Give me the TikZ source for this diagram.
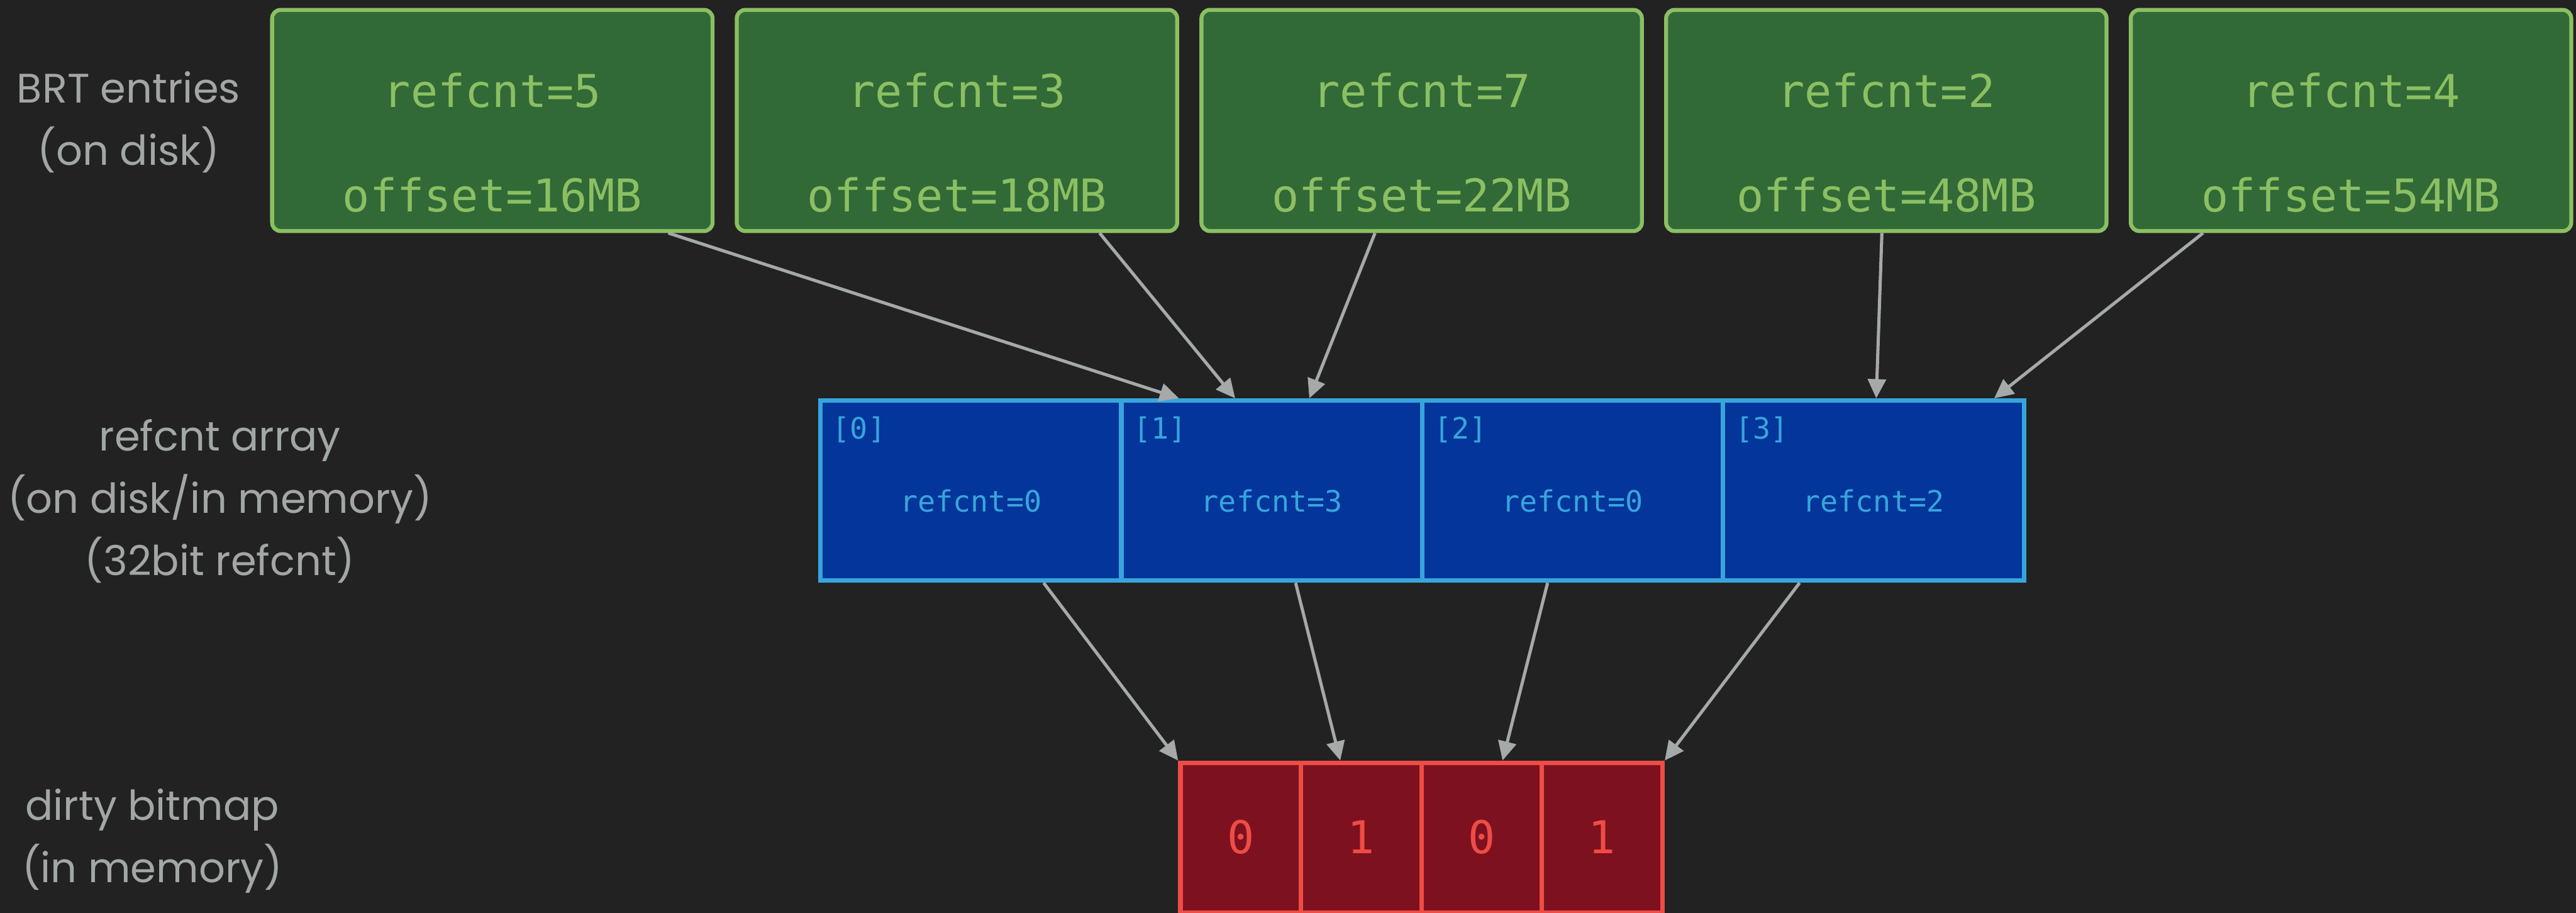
\documentclass[tikz,border=0pt]{standalone}
\usepackage{fontspec}
\setmainfont{Poppins}
\setmonofont{DejaVu Sans Mono}
\usetikzlibrary{arrows.meta,calc,positioning}
\definecolor{bg}{HTML}{222222}
\definecolor{lblgray}{HTML}{A2A6A6}
\definecolor{brtfill}{HTML}{316A37}
\definecolor{brtline}{HTML}{8BBF62}
\definecolor{cntfill}{HTML}{03359A}
\definecolor{cntline}{HTML}{37A5DC}
\definecolor{bitfill}{HTML}{7E111F}
\definecolor{bitline}{HTML}{EE4C45}
\definecolor{ptrgray}{HTML}{A5A9A9}

\begin{document}
\begin{tikzpicture}[
  lbl/.style={font=\fontsize{20.8}{31.5}\selectfont, text=lblgray, align=center, anchor=base, inner sep=0pt},
  brt/.style={draw=brtline, fill=brtfill, line width=2pt, rounded corners=4.3pt, minimum width=7.81cm, minimum height=3.92cm, inner sep=0pt},
  brttxt/.style={font=\ttfamily\fontsize{22.8}{27}\selectfont, text=brtline, anchor=base, inner sep=0pt},
  cnt/.style={draw=cntline, fill=cntfill, line width=2.3pt, minimum width=5.335cm, minimum height=3.19cm, inner sep=0pt},
  cnttxt/.style={font=\ttfamily\fontsize{14.8}{18}\selectfont, text=cntline, anchor=base, inner sep=0pt},
  bit/.style={draw=bitline, fill=bitfill, line width=2.3pt, minimum width=2.137cm, minimum height=2.66cm, inner sep=0pt},
  bittxt/.style={font=\ttfamily\fontsize{22.8}{27}\selectfont, text=bitline, anchor=base, inner sep=0pt},
  ptr/.style={draw=ptrgray, line width=1.6pt, -{Triangle[length=0.34cm,width=0.32cm]}}
]
\fill[bg] (0,0) rectangle (45.68,-16.18);
\useasboundingbox (0,0) rectangle (45.68,-16.18);

\node[lbl] (lbrt) at (2.28,-2.93) {BRT entries\\(on disk)};
\node[lbl] (lcnt) at (3.90,-10.20) {refcnt array\\(on disk/in memory)\\(32bit refcnt)};
\node[lbl] (lbit) at (2.70,-15.64) {dirty bitmap\\(in memory)};

\foreach \i/\x/\r/\ofs in {1/8.73/5/16, 2/16.97/3/18, 3/25.21/7/22, 4/33.45/2/48, 5/41.69/4/54} {
  \node[brt] (e\i) at (\x,-2.135) {};
  \node[brttxt] (e\i r) at (\x,-1.90) {refcnt=\r};
  \node[brttxt] (e\i o) at (\x,-3.75) {offset=\ofs MB};
}

\foreach \i/\x/\v in {0/17.2175/0, 1/22.5525/3, 2/27.8875/0, 3/33.2225/2} {
  \node[cnt] (c\i) at (\x,-8.695) {};
  \node[cnttxt, anchor=base west] (c\i i) at (\x-2.46,-7.78) {[\i]};
  \node[cnttxt] (c\i v) at (\x,-9.07) {refcnt=\v};
}

\foreach \i/\x/\v in {0/22.0/0, 1/24.137/1, 2/26.274/0, 3/28.411/1} {
  \node[bit] (b\i) at (\x,-14.85) {};
  \node[bittxt] (b\i v) at (\x,-15.13) {\v};
}

\foreach \s/\a/\t/\b in {e1/0.896/c1/0.196, e2/0.821/c1/0.38, e3/0.395/c1/0.623, e4/0.49/c3/0.509, e5/0.167/c3/0.895}
  \draw[ptr] ($(\s.south west)!\a!(\s.south east)$) -- ($(\t.north west)!\b!(\t.north east)$);

\foreach \i/\a/\b in {0/0.738/0, 1/0.578/0.333, 2/0.418/0.667, 3/0.258/1}
  \draw[ptr] ($(c\i.south west)!\a!(c\i.south east)$) -- ($(b\i.north west)!\b!(b\i.north east)$);
\end{tikzpicture}
\end{document}
